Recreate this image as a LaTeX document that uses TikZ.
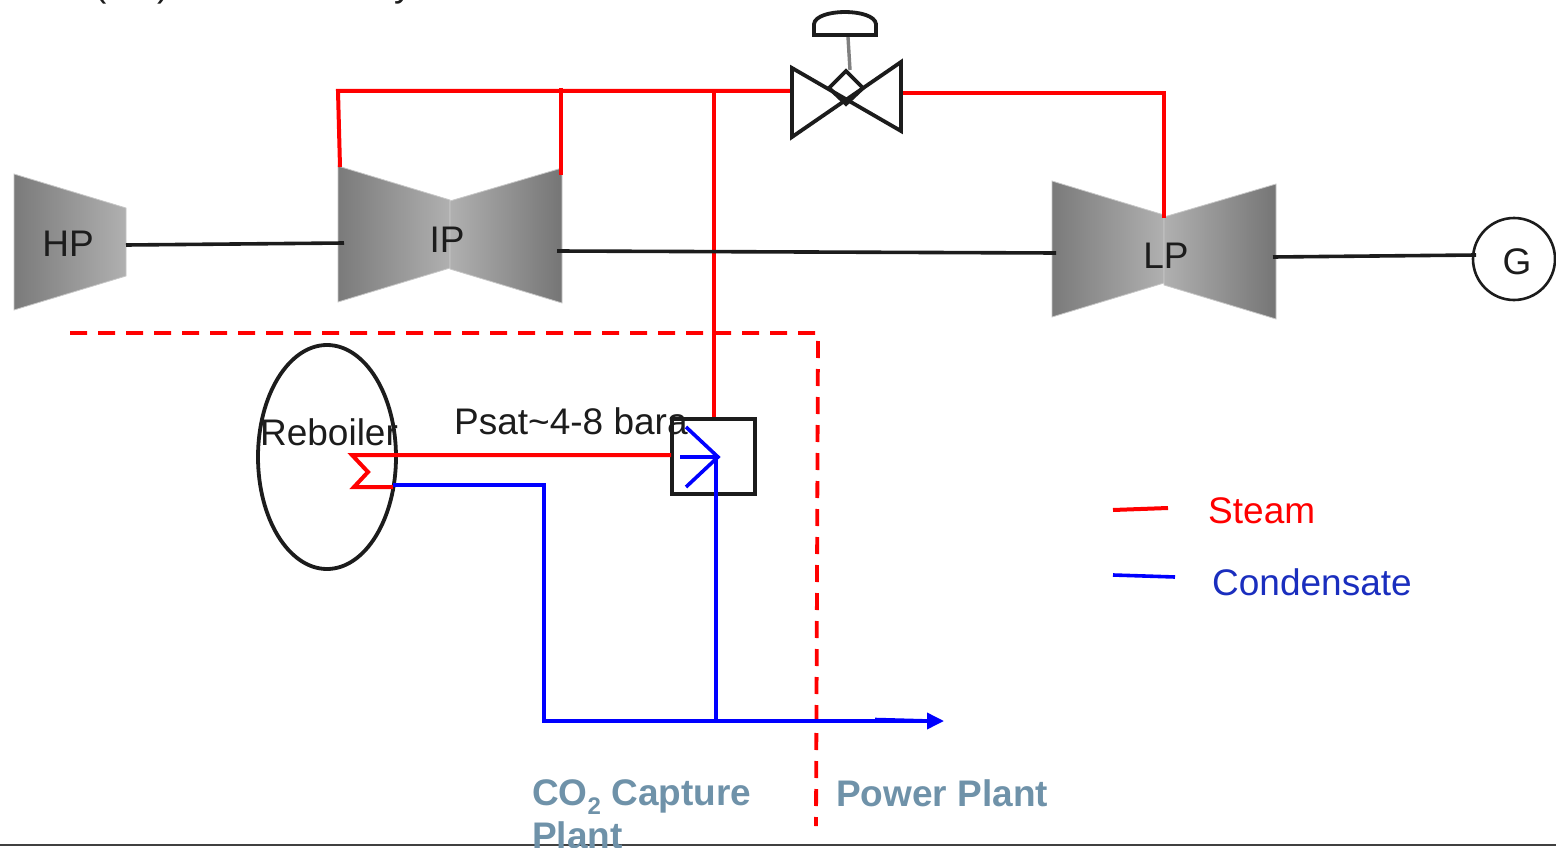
\documentclass[tikz,border=0pt]{standalone}
\usepackage{fontspec}
\setmainfont{Liberation Sans}
\usetikzlibrary{arrows.meta,shapes.geometric}
\definecolor{steamred}{RGB}{255,0,0}
\definecolor{condblue}{RGB}{0,0,255}
\definecolor{inkblack}{RGB}{28,28,28}
\definecolor{legendblue}{RGB}{26,46,190}
\definecolor{slateblue}{RGB}{111,146,169}
\tikzset{
  x=1pt,y=-1pt,
  steam/.style={draw=steamred,line width=4pt,line join=miter},
  cond/.style={draw=condblue,line width=3.6pt,line join=miter},
  shaft/.style={draw=inkblack,line width=3.6pt},
  outline/.style={draw=inkblack,line width=3.8pt},
  label/.style={font=\fontsize{37}{41}\selectfont,text=inkblack,inner sep=0pt},
  plantlabel/.style={font=\fontsize{37}{44}\selectfont\bfseries,text=slateblue,inner sep=0pt,anchor=base west,align=left},
  boundary/.style={draw=steamred,line width=3.8pt,dash pattern=on 17pt off 11pt},
  turbedge/.style={draw=black!22,line width=.8pt},
}
\newcommand{\turbleft}[2]{\shadedraw[turbedge,left color=black!52,right color=black!31] (#1,#2) -- ++(112,34) -- ++(0,68) -- ++(-112,34) -- cycle;}
\newcommand{\turbright}[2]{\shadedraw[turbedge,left color=black!31,right color=black!54] (#1,#2+33) -- ++(112,-33) -- ++(0,135) -- ++(-112,-34) -- cycle;}
\begin{document}
\begin{tikzpicture}
\useasboundingbox (0,0) rectangle (1556,848);
\begin{scope}
\clip (0,0) rectangle (1556,848);
% clipped remains of the line of text above the picture
\node[label,anchor=base west] (topa) at (94,-3) {(};
\node[label,anchor=base west] (topb) at (157,-3) {)};
\node[label,anchor=base west] (topc) at (394,-3) {y};

% turbines
\turbleft{14}{174}
\turbleft{338}{166}
\turbright{450}{168}
\turbleft{1052}{181}
\turbright{1164}{184}
\node[label] (hp) at (68,244) {HP};
\node[label] (ip) at (447,240) {IP};
\node[label] (lp) at (1166,256) {LP};
\node[draw=inkblack,line width=2.6pt,circle,minimum size=82pt,inner sep=0pt] (gen) at (1514,259) {};
\node[label] (gtext) at (1517,262) {G};

% steam
\coordinate (tl) at (338,91);
\coordinate (ipl) at (340,167);
\coordinate (ipr) at (561,175);
\coordinate (iprt) at (561,88);
\coordinate (tee) at (714,91);
\coordinate (vl) at (792,91);
\coordinate (vr) at (901,93);
\coordinate (lpc) at (1164,93);
\coordinate (lpin) at (1164,218);
\coordinate (hxtop) at (714,419);
\draw[steam] (ipl) -- (tl) -- (vl);
\draw[steam] (iprt) -- (ipr);
\draw[steam] (tee) -- (hxtop);
\draw[steam] (vr) -- (lpc) -- (lpin);

% shafts
\coordinate (s1a) at (126,245);
\coordinate (s1b) at (344,243);
\coordinate (s2a) at (557,251);
\coordinate (s2b) at (1056,253);
\coordinate (s3a) at (1273,257);
\coordinate (s3b) at (1476,255);
\draw[shaft] (s1a) -- (s1b);
\draw[shaft] (s2a) -- (s2b);
\draw[shaft] (s3a) -- (s3b);

% valve
\coordinate (stema) at (848,37);
\coordinate (stemb) at (850,70);
\draw[draw=black!50,line width=3.4pt] (stema) -- (stemb);
\draw[outline] (792,68) -- (901,131) -- (901,62) -- (792,137) -- cycle;
\draw[outline] (846,71) -- (863,88) -- (846,104) -- (829,88) -- cycle;
\draw[outline] (814,35) -- (814,24) .. controls (816,8) and (874,8) .. (876,24) -- (876,35) -- cycle;

% boundary
\coordinate (da) at (70,333);
\coordinate (db) at (818,333);
\coordinate (dc) at (816,826);
\draw[boundary] (da) -- (db) -- (dc);

% reboiler
\node[draw=inkblack,line width=3.8pt,ellipse,minimum width=138pt,minimum height=224pt,inner sep=0pt] (reb) at (327,457) {};
\node[label] (rebt) at (329,432) {Reboiler};
\node[label,anchor=west] (psat) at (454,421) {Psat\char`\~4-8 bara};

% heat exchanger and condensate
\node[draw=inkblack,line width=3.8pt,rectangle,minimum width=83pt,minimum height=75pt,inner sep=0pt] (hx) at (713.5,456.5) {};
\coordinate (c1) at (352,455);
\coordinate (c2) at (368,472);
\coordinate (c3) at (354,487);
\coordinate (c4) at (393,487);
\coordinate (hxin) at (671,455);
\draw[steam] (hxin) -- (c1) -- (c2) -- (c3) -- (c4);
\coordinate (b1) at (393,485);
\coordinate (b2) at (544,485);
\coordinate (b3) at (544,721);
\coordinate (b4) at (944,721);
\coordinate (b5) at (716,721);
\coordinate (b6) at (716,457);
\coordinate (b7) at (875,719.5);
\coordinate (b8) at (930,721);
\coordinate (cha) at (686,427);
\coordinate (chb) at (686,487);
\coordinate (chc) at (680,457);
\coordinate (chp) at (718,457);
\draw[cond,-{Triangle[length=17pt,width=16pt]}] (b1) -- (b2) -- (b3) -- (b4);
\draw[cond] (b7) -- (b8);
\draw[cond] (b5) -- (b6);
\draw[cond] (cha) -- (chp) -- (chb);
\draw[cond] (chc) -- (chp);

% legend
\coordinate (lg1) at (1113,510);
\coordinate (lg2) at (1168,508);
\coordinate (lg3) at (1113,575);
\coordinate (lg4) at (1175,577);
\draw[steam] (lg1) -- (lg2);
\draw[cond] (lg3) -- (lg4);
\node[label,anchor=west,text=steamred] (steamt) at (1208,511) {Steam};
\node[label,anchor=west,text=legendblue] (condt) at (1212,582) {Condensate};

% page rule and plant labels
\coordinate (ra) at (0,845);
\coordinate (rb) at (1556,845);
\draw[draw=black!75,line width=2pt] (ra) -- (rb);
\node[plantlabel] (co2) at (532,805) {CO\raisebox{-9pt}{\fontsize{24}{24}\selectfont 2} Capture};
\node[plantlabel] (co2b) at (532,848) {Plant};
\node[plantlabel] (pp) at (836,806) {Power Plant};
\end{scope}
\end{tikzpicture}
\end{document}
